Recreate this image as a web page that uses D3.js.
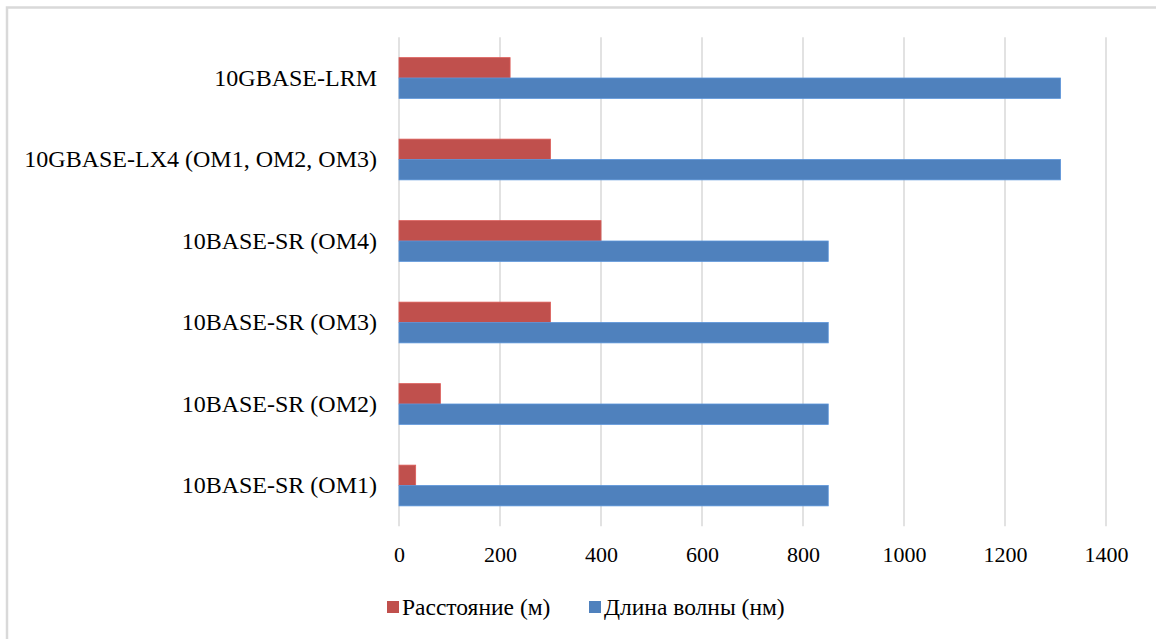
<!DOCTYPE html>
<html>
<head>
<meta charset="utf-8">
<script src="https://cdn.jsdelivr.net/npm/d3@7"></script>
<style>
  html, body { margin: 0; padding: 0; background: #fff; }
  svg { display: block; }
  text { font-family: "Liberation Serif", "Times New Roman", serif; fill: #000; }
</style>
</head>
<body>
<svg id="chart" width="1156" height="639"></svg>
<script>
// Standards, listed bottom to top as they appear on the axis
const categories = [
  "10BASE-SR (OM1)",
  "10BASE-SR (OM2)",
  "10BASE-SR (OM3)",
  "10BASE-SR (OM4)",
  "10GBASE-LX4 (OM1, OM2, OM3)",
  "10GBASE-LRM"
];
const seriesNames = ["Расстояние (м)", "Длина волны (нм)"];
const distance = [33, 82, 300, 400, 300, 220];
const wavelength = [850, 850, 850, 850, 1310, 1310];
const xTicks = [0, 200, 400, 600, 800, 1000, 1200, 1400];
const colors = ["#c0504d", "#4f81bd"];

const rows = categories.map((c, i) => ({ cat: c, values: [distance[i], wavelength[i]] }));

const svg = d3.select("#chart");

// chart frame
svg.append("path")
  .attr("d", "M7,639 V7.5 H1156")
  .attr("fill", "none")
  .attr("stroke", "#d9d9d9")
  .attr("stroke-width", 2.5);

const plot = { left: 399, right: 1106, top: 37.25, bottom: 526.25 };

const x = d3.scaleLinear().domain([0, 1400]).range([plot.left, plot.right]);
const y = d3.scaleBand()
  .domain(categories.slice().reverse())
  .range([plot.top, plot.bottom])
  .paddingInner(0.5)
  .paddingOuter(0.25);
const ySub = d3.scaleBand().domain([0, 1]).range([0, y.bandwidth()]);

// vertical gridlines
svg.append("g")
  .selectAll("line")
  .data(xTicks)
  .join("line")
  .attr("x1", d => x(d)).attr("x2", d => x(d))
  .attr("y1", plot.top).attr("y2", plot.bottom)
  .attr("stroke", "#d9d9d9")
  .attr("stroke-width", 1.5);

// bars
const groups = svg.append("g")
  .selectAll("g")
  .data(rows)
  .join("g")
  .attr("transform", d => `translate(0,${y(d.cat)})`);

groups.selectAll("rect")
  .data(d => d.values.map((v, k) => ({ v, k })))
  .join("rect")
  .attr("x", x(0))
  .attr("y", d => ySub(d.k))
  .attr("width", d => x(d.v) - x(0))
  .attr("height", ySub.bandwidth())
  .attr("fill", d => colors[d.k])
  .attr("stroke", d => d3.color(colors[d.k]).brighter(0.4))
  .attr("stroke-width", 0.8);

// x axis labels
const xAxis = d3.axisBottom(x).tickValues(xTicks).tickSize(0).tickPadding(0).tickFormat(d3.format("d"));
const gx = svg.append("g")
  .attr("transform", `translate(0,${plot.bottom + 20})`)
  .call(xAxis);
gx.select(".domain").remove();
gx.selectAll("text")
  .attr("font-family", "Liberation Serif, serif")
  .attr("font-size", 22)
  .attr("fill", "#000");

// category labels
const yAxis = d3.axisLeft(y).tickSize(0).tickPadding(0);
const gy = svg.append("g")
  .attr("transform", `translate(377,0)`)
  .call(yAxis);
gy.select(".domain").remove();
gy.selectAll("text")
  .attr("font-family", "Liberation Serif, serif")
  .attr("font-size", 24)
  .attr("fill", "#000");

// legend
const legend = svg.append("g").attr("transform", "translate(387,607)");
const legendX = [0, 202];
const items = legend.selectAll("g")
  .data(seriesNames)
  .join("g")
  .attr("transform", (d, i) => `translate(${legendX[i]},0)`);
items.append("rect")
  .attr("x", 0).attr("y", -6)
  .attr("width", 12).attr("height", 12)
  .attr("fill", (d, i) => colors[i]);
items.append("text")
  .attr("x", 15)
  .attr("dy", "0.35em")
  .attr("font-size", 23.5)
  .text(d => d);
</script>
</body>
</html>
